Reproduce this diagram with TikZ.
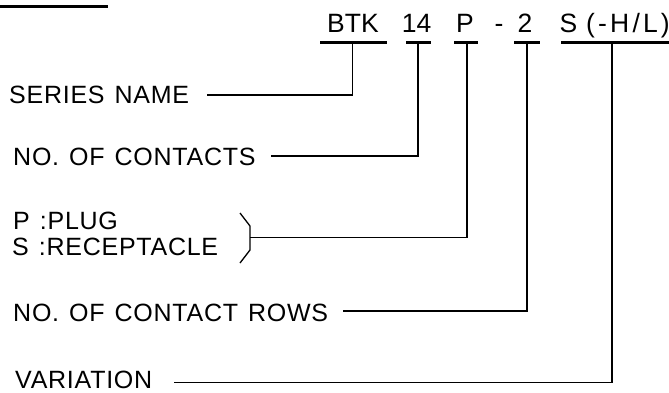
\documentclass[tikz,border=0pt]{standalone}
\usepackage{fontspec}
\setmainfont{Liberation Sans}
\newfontfamily\lblfont[LetterSpace=3,WordSpace=1.3]{Liberation Sans}
\newfontfamily\hdrfont{Liberation Sans}
\newfontfamily\hdrwide[LetterSpace=12]{Liberation Sans}
\begin{document}
\begin{tikzpicture}[x=1pt,y=-1pt,
  lbl/.style={anchor=base west, inner sep=0pt, font=\lblfont\fontsize{25}{27}\selectfont},
  hdr/.style={anchor=base, inner sep=0pt, font=\hdrfont\fontsize{26.5}{28}\selectfont},
  hdrw/.style={anchor=base west, inner sep=0pt, font=\hdrwide\fontsize{26.5}{28}\selectfont},
  thinln/.style={line width=1.3pt},
  thickln/.style={line width=3pt}]
\useasboundingbox (0,0) rectangle (669,392);

% top-left rule
\coordinate (tl1) at (0,6);
\coordinate (tl2) at (108,6);
\draw[thickln] (tl1) -- (tl2);

% header tokens
\node[hdr] (hBTK) at (353,32) {BTK};
\node[hdr] (h14) at (416.5,32) {14};
\node[hdr] (hP) at (465,32) {P};
\node[hdr] (hdash) at (499,32) {-};
\node[hdr] (h2) at (525,32) {2};
\node[hdrw] (hS) at (559.5,32) {S};
\node[hdrw] (hVar) at (586,32) {(-H/L)};

% underlines
\coordinate (u1a) at (320,42); \coordinate (u1b) at (387,42);
\coordinate (u2a) at (406,42); \coordinate (u2b) at (431,42);
\coordinate (u3a) at (454,42); \coordinate (u3b) at (478,42);
\coordinate (u4a) at (514,42); \coordinate (u4b) at (540,42);
\coordinate (u5a) at (561,42); \coordinate (u5b) at (669,42);
\draw[thickln] (u1a) -- (u1b);
\draw[thickln] (u2a) -- (u2b);
\draw[thickln] (u3a) -- (u3b);
\draw[thickln] (u4a) -- (u4b);
\draw[thickln] (u5a) -- (u5b);

% labels
\node[lbl] (series) at (9,103) {SERIES NAME};
\node[lbl] (contacts) at (13,165) {NO. OF CONTACTS};
\node[lbl] (plug) at (13,229) {P :PLUG};
\node[lbl] (recept) at (12,255) {S :RECEPTACLE};
\node[lbl] (rows) at (13,321) {NO. OF CONTACT ROWS};
\node[lbl] (var) at (15,388) {VARIATION};

% bracket
\coordinate (b1) at (240,213);
\coordinate (b2) at (250,226);
\coordinate (b3) at (250,250);
\coordinate (b4) at (240,263);
\draw[thinln, line join=miter] (b1) -- (b2) -- (b3) -- (b4);

% connector tops
\coordinate (t1) at (352.5,42);
\coordinate (t2) at (418,42);
\coordinate (t3) at (467,42);
\coordinate (t4) at (527,42);
\coordinate (t5) at (612,42);
% connector free ends
\coordinate (e1) at (207,95);
\coordinate (e2) at (271,156);
\coordinate (e3) at (250,237.5);
\coordinate (e4) at (343,311);
\coordinate (e5) at (174,382.5);

\draw[thinln] (t1) |- (e1);
\draw[thinln] (t2) |- (e2);
\draw[thinln] (t3) |- (e3);
\draw[thinln] (t4) |- (e4);
\draw[thinln] (t5) |- (e5);
\end{tikzpicture}
\end{document}
